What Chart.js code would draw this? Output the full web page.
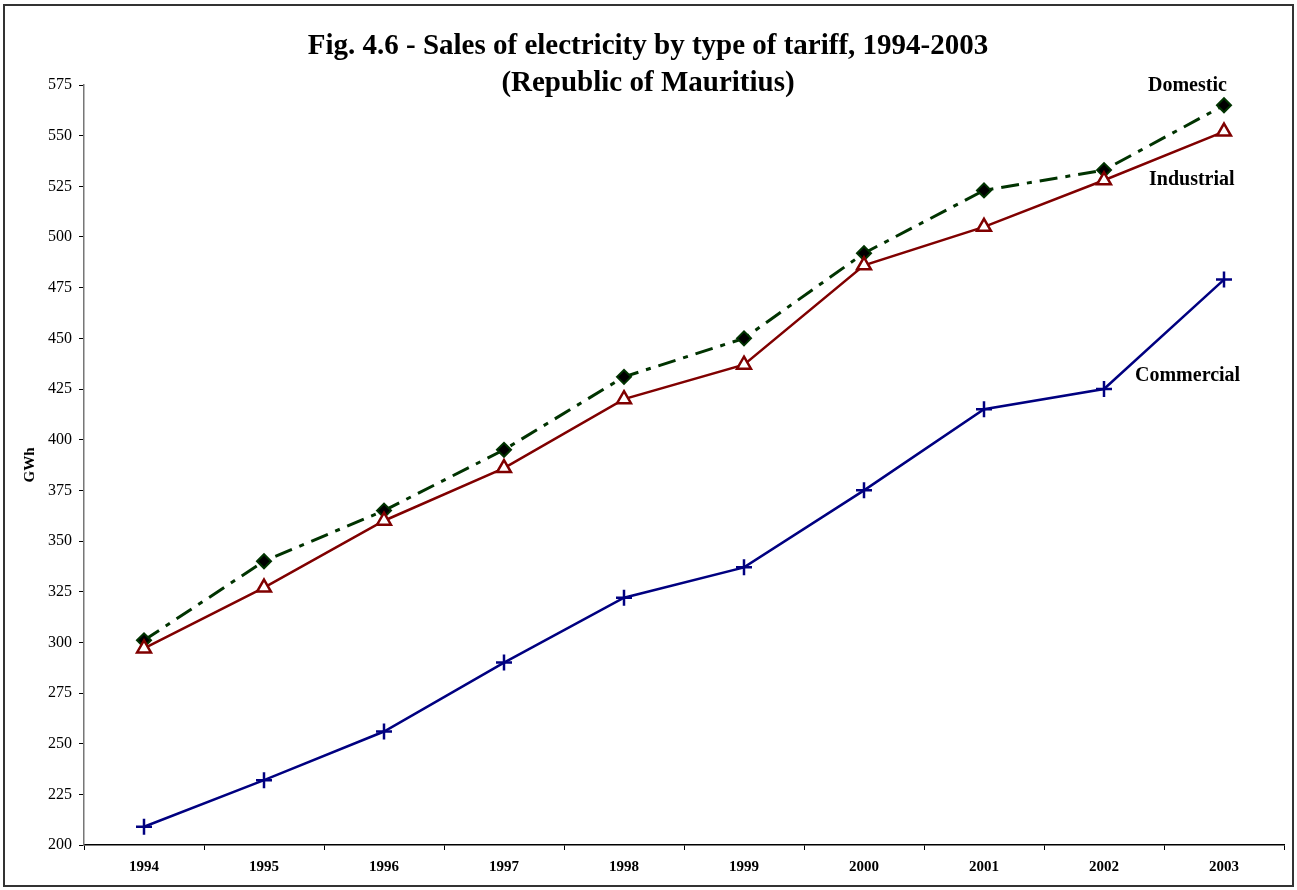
<!DOCTYPE html>
<html lang="en">
<head>
    <meta charset="UTF-8">
    <title>Sales of electricity by type of tariff</title>
    <style>
        body { margin: 0; padding: 0; background: #fff; }
        canvas { display: block; }
    </style>
</head>
<body>
<canvas id="salesChart" width="1297" height="890"></canvas>

<script src="https://cdn.jsdelivr.net/npm/chart.js"></script>
<script>
    // Data (GWh)
    const years = ['1994', '1995', '1996', '1997', '1998', '1999', '2000', '2001', '2002', '2003'];
    const domestic = [301, 340, 365, 395, 431, 450, 492, 523, 533, 565];
    const industrial = [297, 327, 360, 386, 420, 437, 486, 505, 528, 552];
    const commercial = [209, 232, 256, 290, 322, 337, 375, 415, 425, 479];

    const serif = '"Liberation Serif", "Times New Roman", serif';

    // Frame, title and series labels
    const decorations = {
      id: 'decorations',
      beforeDraw(chart) {
        const c = chart.ctx;
        c.save();
        c.fillStyle = '#fff';
        c.fillRect(0, 0, chart.width, chart.height);
        c.restore();
      },
      afterDraw(chart) {
        const c = chart.ctx;
        c.save();
        c.strokeStyle = '#333';
        c.lineWidth = 2;
        c.strokeRect(4, 5, 1289, 881);

        c.fillStyle = '#000';
        c.textAlign = 'center';
        c.textBaseline = 'middle';
        c.font = 'bold 29px ' + serif;
        c.fillText('Fig. 4.6 - Sales of electricity by type of tariff, 1994-2003', 648, 47);
        c.fillText('(Republic of Mauritius)', 648, 84);

        c.font = 'bold 20px ' + serif;
        c.textAlign = 'left';
        c.fillText('Domestic', 1148, 86);
        c.fillText('Industrial', 1149, 180);
        c.fillText('Commercial', 1135, 376);
        c.restore();
      }
    };

    const ctx = document.getElementById('salesChart').getContext('2d');
    new Chart(ctx, {
      type: 'line',
      data: {
        labels: years,
        datasets: [
          {
            label: 'Commercial',
            data: commercial,
            borderColor: '#000080',
            borderWidth: 2.5,
            pointStyle: 'cross',
            pointRadius: 8,
            pointBorderWidth: 2.5,
            pointBorderColor: '#000080',
            tension: 0
          },
          {
            label: 'Industrial',
            data: industrial,
            borderColor: '#800000',
            borderWidth: 2.5,
            pointStyle: 'triangle',
            pointRadius: 8,
            pointBorderWidth: 2.5,
            pointBackgroundColor: '#fff',
            pointBorderColor: '#800000',
            tension: 0
          },
          {
            label: 'Domestic',
            data: domestic,
            borderColor: '#003300',
            borderWidth: 3,
            borderDash: [18, 8, 5, 8],
            pointStyle: 'rectRot',
            pointRadius: 7,
            pointBorderWidth: 2,
            pointBackgroundColor: '#000',
            pointBorderColor: '#003300',
            tension: 0
          }
        ]
      },
      options: {
        responsive: false,
        animation: false,
        layout: { padding: { top: 85, right: 13, bottom: 0, left: 0 } },
        plugins: {
          legend: { display: false },
          tooltip: { enabled: false }
        },
        scales: {
          x: {
            offset: true,
            grid: {
              offset: true,
              drawOnChartArea: false,
              drawTicks: true,
              tickLength: 5,
              color: '#000'
            },
            border: { display: true, color: '#000', width: 1.5 },
            ticks: {
              color: '#000',
              padding: 8,
              font: { family: serif, size: 15, weight: 'bold' },
              maxRotation: 0
            },
            afterFit(scale) { scale.height = 45; }
          },
          y: {
            min: 200,
            max: 575,
            ticks: {
              stepSize: 25,
              color: '#000',
              padding: 7,
              font: { family: serif, size: 16 }
            },
            grid: {
              drawOnChartArea: false,
              drawTicks: true,
              tickLength: 5,
              color: '#000'
            },
            border: { display: true, color: '#777', width: 1.5 },
            title: {
              display: true,
              text: 'GWh',
              color: '#000',
              padding: { top: 21, bottom: 0 },
              font: { family: serif, size: 15, weight: 'bold' }
            },
            afterFit(scale) { scale.width = 84; }
          }
        }
      },
      plugins: [decorations]
    });
</script>
</body>
</html>
